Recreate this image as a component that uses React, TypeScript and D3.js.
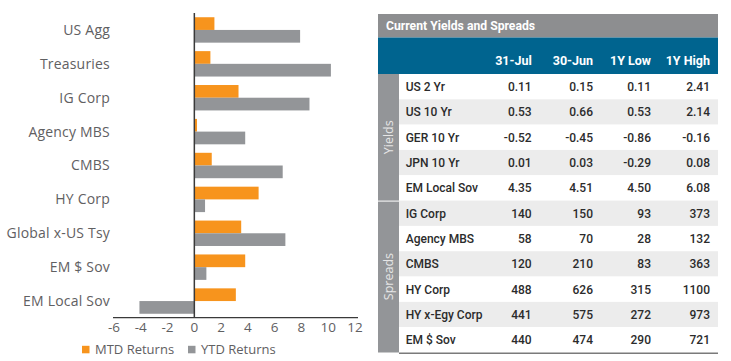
import React from "react";
import * as d3 from "d3";

const categories = ["US Agg", "Treasuries", "IG Corp", "Agency MBS", "CMBS", "HY Corp", "Global x-US Tsy", "EM $ Sov", "EM Local Sov"];
const mtdReturns = [1.5, 1.2, 3.3, 0.2, 1.3, 4.8, 3.5, 3.8, 3.1];
const ytdReturns = [7.9, 10.2, 8.6, 3.8, 6.6, 0.8, 6.8, 0.9, -4.1];
const xTicks = [-6, -4, -2, 0, 2, 4, 6, 8, 10, 12];
const seriesNames = ["MTD Returns", "YTD Returns"];

const tableTitle = "Current Yields and Spreads";
const tableHeaders = ["31-Jul", "30-Jun", "1Y Low", "1Y High"];
const rowLabels = ["US 2 Yr", "US 10 Yr", "GER 10 Yr", "JPN 10 Yr", "EM Local Sov", "IG Corp", "Agency MBS", "CMBS", "HY Corp", "HY x-Egy Corp", "EM $ Sov"];
const colJul = ["0.11", "0.53", "-0.52", "0.01", "4.35", "140", "58", "120", "488", "441", "440"];
const colJun = ["0.15", "0.66", "-0.45", "0.03", "4.51", "150", "70", "210", "626", "575", "474"];
const colLow = ["0.11", "0.53", "-0.86", "-0.29", "4.50", "93", "28", "83", "315", "272", "290"];
const colHigh = ["2.41", "2.14", "-0.16", "0.08", "6.08", "373", "132", "363", "1100", "973", "721"];
const groups = [{ name: "Yields", count: 5 }, { name: "Spreads", count: 6 }];

const ORANGE = "#f7941d";
const GREY = "#939598";
const BLUE = "#00648f";
const TITLE_GREY = "#8d8e90";

export default function App() {
  const x = d3.scaleLinear().domain([-6, 12]).range([114, 355]);
  const y = d3.scaleBand<string>().domain(categories).range([13, 318]).paddingInner(0.25).paddingOuter(0.125);
  const ys = d3.scaleBand<string>().domain(seriesNames).range([0, y.bandwidth()]).padding(0);
  const series = [mtdReturns, ytdReturns];
  const colors = [ORANGE, GREY];
  const labelFont = "'Open Sans', sans-serif";
  const tableFont = "Roboto, sans-serif";

  const tX = 378, tR = 718, sideW = 21;
  const rowTop = 74, rowBottom = 352.5;
  const rowY = d3.scaleBand<number>().domain(d3.range(rowLabels.length)).range([rowTop, rowBottom]);
  const colEnds = [531.7, 593, 651, 710];
  const cols = [colJul, colJun, colLow, colHigh];

  let acc = 0;
  const groupBlocks = groups.map((g) => {
    const start = acc;
    acc += g.count;
    return { ...g, y0: rowY(start)!, y1: start + g.count >= rowLabels.length ? rowBottom : rowY(start + g.count)! };
  });

  return (
    <svg width={731} height={361} style={{ position: "absolute", left: 0, top: 0, background: "#fff" }}>
      {categories.map((c, i) => (
        <g key={c}>
          {series.map((s, k) => {
            const v = s[i];
            const y0 = y(c)! + ys(seriesNames[k])!;
            return (
              <rect key={k} x={Math.min(x(0), x(v))} y={y0} width={Math.abs(x(v) - x(0))} height={ys.bandwidth()} fill={colors[k]} />
            );
          })}
          <text x={110} y={y(c)! + y.bandwidth() / 2} dy="0.35em" textAnchor="end" fontFamily={labelFont} fontSize={14} letterSpacing={0.2} fill="#5f6062">
            {c}
          </text>
        </g>
      ))}
      <line x1={x(0)} x2={x(0)} y1={13} y2={318} stroke="#3a3a3a" strokeWidth={1.5} />
      <line x1={113} x2={358} y1={317.7} y2={317.7} stroke="#3a3a3a" strokeWidth={1.3} />
      {xTicks.map((t) => (
        <text key={t} x={x(t)} y={332} textAnchor="middle" fontFamily={labelFont} fontSize={13.5} fill="#5f6062">
          {t}
        </text>
      ))}
      {seriesNames.map((n, k) => {
        const lx = [82, 188][k];
        return (
          <g key={n}>
            <rect x={lx} y={345.8} width={7.5} height={7.5} fill={colors[k]} />
            <text x={lx + 13} y={354} fontFamily={labelFont} fontSize={13} fill="#5f6062">
              {n}
            </text>
          </g>
        );
      })}

      <rect x={tX} y={14} width={tR - tX} height={23.5} fill={TITLE_GREY} />
      <text x={386} y={29.5} fontFamily={tableFont} fontWeight={700} fontSize={12.2} fill="#fff">
        {tableTitle}
      </text>
      <rect x={tX} y={37.5} width={tR - tX} height={rowTop - 37.5} fill={BLUE} />
      {tableHeaders.map((h, j) => (
        <text key={h} x={colEnds[j]} y={65} textAnchor="end" fontFamily={tableFont} fontWeight={700} fontSize={12.5} fill="#fff">
          {h}
        </text>
      ))}
      {rowLabels.map((r, i) => (
        <g key={r}>
          <rect x={tX + sideW} y={rowY(i)!} width={tR - tX - sideW} height={rowY.bandwidth()} fill={i % 2 === 0 ? "#ffffff" : "#ececec"} />
          <text x={405.7} y={rowY(i)! + rowY.bandwidth() / 2} dy="0.36em" fontFamily={tableFont} fontWeight={500} fontSize={12} fill="#2b2b2b">
            {r}
          </text>
          {cols.map((col, j) => (
            <text key={j} x={colEnds[j]} y={rowY(i)! + rowY.bandwidth() / 2} dy="0.36em" textAnchor="end" fontFamily={tableFont} fontWeight={500} fontSize={12} fill="#2b2b2b">
              {col[i]}
            </text>
          ))}
        </g>
      ))}
      {groupBlocks.map((g, k) => (
        <g key={g.name}>
          <rect x={tX} y={g.y0 + (k === 0 ? 0 : 1)} width={sideW} height={g.y1 - g.y0 - (k === 0 ? 0 : 1)} fill={GREY} />
          <text
            transform={`translate(${tX + sideW / 2},${(g.y0 + g.y1) / 2}) rotate(-90)`}
            textAnchor="middle"
            dy="0.35em"
            fontFamily={labelFont}
            fontSize={12.5}
            fill="#e6e6e6"
          >
            {g.name}
          </text>
        </g>
      ))}
      <line x1={tX + sideW} x2={tR} y1={353.3} y2={353.3} stroke="#7a7a7a" strokeWidth={1.6} />
    </svg>
  );
}
